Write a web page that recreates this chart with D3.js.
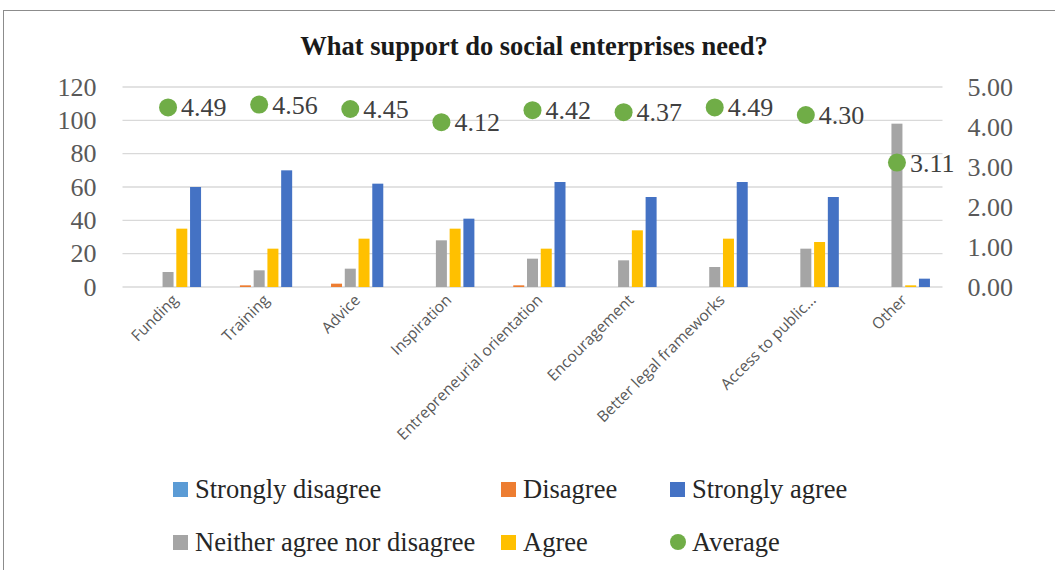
<!DOCTYPE html>
<html>
<head>
<meta charset="utf-8">
<script src="https://cdn.jsdelivr.net/npm/d3@7"></script>
<style>
  body { margin: 0; background: #fff; }
  svg { display: block; }
</style>
</head>
<body>
<div id="chart"></div>
<script>
var categories = ['Funding', 'Training', 'Advice', 'Inspiration', 'Entrepreneurial orientation',
    'Encouragement', 'Better legal frameworks', 'Access to public...', 'Other']
var seriesNames = ['Strongly disagree', 'Disagree', 'Neither agree nor disagree', 'Agree', 'Strongly agree']
var stronglyDisagree = [0, 0, 0, 0, 0, 0, 0, 0, 0]
var disagree = [0, 1, 2, 0, 1, 0, 0, 0, 0]
var neither = [9, 10, 11, 28, 17, 16, 12, 23, 98]
var agree = [35, 23, 29, 35, 23, 34, 29, 27, 1]
var stronglyAgree = [60, 70, 62, 41, 63, 54, 63, 54, 5]
var average = [4.49, 4.56, 4.45, 4.12, 4.42, 4.37, 4.49, 4.30, 3.11]
var leftTicks = [0, 20, 40, 60, 80, 100, 120]
var rightTicks = [0, 1, 2, 3, 4, 5]

var colors = ['#5b9bd5', '#ed7d31', '#a5a5a5', '#ffc000', '#4472c4']
var avgColor = '#70ad47'
var series = [stronglyDisagree, disagree, neither, agree, stronglyAgree]
var SERIF = '"Liberation Serif", "Times New Roman", serif'

var W = 1055, H = 570
var margin = { top: 87, left: 122.5, right: 112.5, bottom: 283 }
var width = W - margin.left - margin.right,
    height = H - margin.top - margin.bottom

var svg = d3.select('#chart').append('svg')
    .attr('width', W)
    .attr('height', H)

// outer chart border
svg.append('rect')
    .attr('x', 3.5).attr('y', 10.5)
    .attr('width', W + 10).attr('height', H + 10)
    .attr('fill', 'none').attr('stroke', '#8c8c8c').attr('stroke-width', 1)

svg.append('text')
    .attr('x', 534).attr('y', 55)
    .attr('text-anchor', 'middle')
    .style('font-family', SERIF)
    .style('font-weight', 'bold')
    .style('font-size', '26.5px')
    .attr('fill', '#1a1a1a')
    .text('What support do social enterprises need?')

var g = svg.append('g')
    .attr('transform', 'translate(' + margin.left + ',' + margin.top + ')')

var x = d3.scaleBand().domain(categories).range([0, width])
var xs = d3.scaleBand().domain(d3.range(5)).range([0, 66]).paddingInner(0.2)
var y = d3.scaleLinear().domain([0, 120]).range([height, 0])
var y2 = d3.scaleLinear().domain([0, 5]).range([height, 0])

// gridlines
g.selectAll('.grid')
    .data(leftTicks)
    .enter().append('line')
    .attr('x1', 0).attr('x2', width)
    .attr('y1', function (d) { return y(d) }).attr('y2', function (d) { return y(d) })
    .attr('stroke', '#d9d9d9').attr('stroke-width', 1.3)

// left axis
var leftAxis = g.append('g')
    .attr('transform', 'translate(-26,0)')
    .call(d3.axisLeft(y).tickValues(leftTicks).tickSize(0).tickPadding(0))
leftAxis.select('.domain').remove()
leftAxis.selectAll('text')
    .style('font-family', SERIF)
    .style('font-size', '26px').attr('fill', '#595959')

// right axis
var rightAxis = g.append('g')
    .attr('transform', 'translate(' + (width + 25) + ',0)')
    .call(d3.axisRight(y2).tickValues(rightTicks).tickSize(0).tickPadding(0)
        .tickFormat(d3.format('.2f')))
rightAxis.select('.domain').remove()
rightAxis.selectAll('text')
    .style('font-family', SERIF)
    .style('font-size', '26px').attr('fill', '#595959')

// bars
var groups = g.selectAll('.cat')
    .data(categories)
    .enter().append('g')
    .attr('transform', function (d) { return 'translate(' + (x(d) + (x.bandwidth() - 66) / 2) + ',0)' })

series.forEach(function (s, si) {
    groups.append('rect')
        .attr('x', xs(si))
        .attr('width', xs.bandwidth())
        .attr('y', function (d, i) { return y(s[i]) })
        .attr('height', function (d, i) { return height - y(s[i]) })
        .attr('fill', colors[si])
})

// category labels
g.selectAll('.xlab')
    .data(categories)
    .enter().append('text')
    .attr('transform', function (d) {
        return 'translate(' + (x(d) + x.bandwidth() / 2 + 11) + ',' + (height + 14) + ') rotate(-45)'
    })
    .attr('text-anchor', 'end')
    .style('font-family', '"Open Sans", sans-serif')
    .style('font-size', '15.5px')
    .attr('fill', '#595959')
    .text(function (d) { return d })

// average markers
var avg = g.selectAll('.avg')
    .data(average)
    .enter().append('g')
avg.append('circle')
    .attr('cx', function (d, i) { return x(categories[i]) + x.bandwidth() / 2 })
    .attr('cy', function (d) { return y2(d) })
    .attr('r', 9)
    .attr('fill', avgColor)
avg.append('text')
    .attr('x', function (d, i) { return x(categories[i]) + x.bandwidth() / 2 + 13 })
    .attr('y', function (d) { return y2(d) + 9 })
    .style('font-family', SERIF)
    .style('font-size', '26px')
    .attr('fill', '#404040')
    .text(function (d) { return d3.format('.2f')(d) })

// legend
var legendItems = [
    { name: seriesNames[0], color: colors[0], x: 173, y: 489 },
    { name: seriesNames[1], color: colors[1], x: 501, y: 489 },
    { name: seriesNames[4], color: colors[4], x: 670, y: 489 },
    { name: seriesNames[2], color: colors[2], x: 173, y: 542 },
    { name: seriesNames[3], color: colors[3], x: 501, y: 542 },
    { name: 'Average', color: avgColor, x: 670, y: 542, dot: true }
]
var leg = svg.selectAll('.leg')
    .data(legendItems)
    .enter().append('g')
    .attr('transform', function (d) { return 'translate(' + d.x + ',' + d.y + ')' })
leg.each(function (d) {
    var el = d3.select(this)
    if (d.dot) {
        el.append('circle').attr('cx', 8).attr('cy', 0).attr('r', 8).attr('fill', d.color)
    } else {
        el.append('rect').attr('x', 0).attr('y', -7).attr('width', 15).attr('height', 15).attr('fill', d.color)
    }
})
leg.append('text')
    .attr('x', 22)
    .attr('y', 9)
    .style('font-family', SERIF)
    .style('font-size', '26.5px')
    .attr('fill', '#262626')
    .text(function (d) { return d.name })
</script>
</body>
</html>
